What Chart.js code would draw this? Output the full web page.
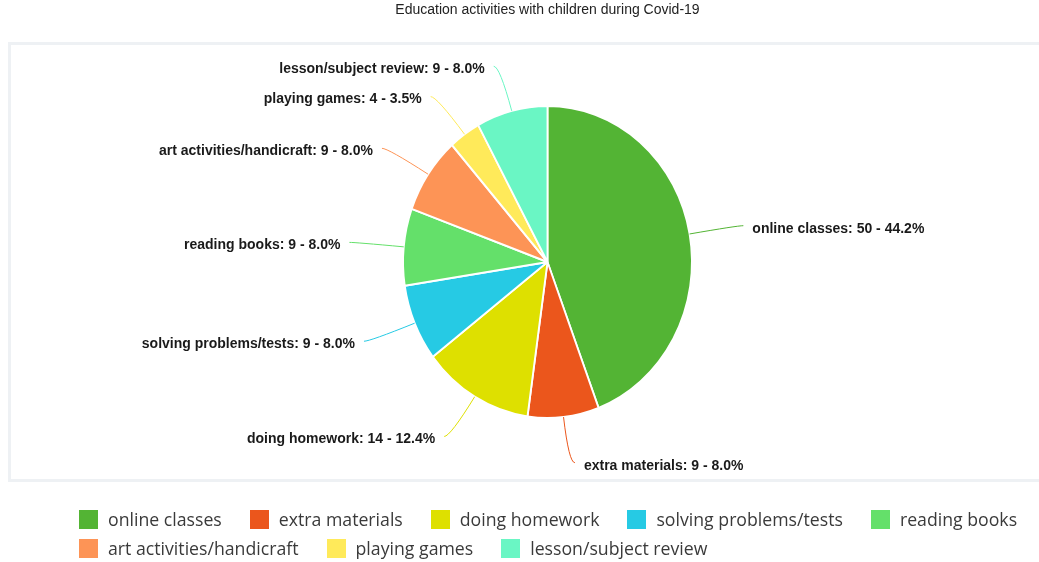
<!DOCTYPE html>
<html>
<head>
<meta charset="utf-8">
<script src="https://cdn.jsdelivr.net/npm/chart.js@4.4.1/dist/chart.umd.min.js"></script>
<style>
  body { margin: 0; background: #fff; overflow: hidden; width: 1039px; height: 562px; position: relative; }
  #frame { position: absolute; left: 8px; top: 42px; width: 1100px; height: 434px; border: 3px solid #eef1f4; }
  #pie { position: absolute; left: 0; top: 0; }
  #legend { position: absolute; left: 79px; top: 510px; width: 1040px; display: flex; flex-wrap: wrap; column-gap: 28px; row-gap: 10px; }
  .item { display: flex; align-items: center; font-family: "Open Sans", sans-serif; font-size: 17.7px; color: #3a3a3a; line-height: 19px; }
  .item span { display: inline-block; width: 19px; height: 19px; margin-right: 10px; }
</style>
</head>
<body>
<div id="frame"></div>
<canvas id="pie" width="1039" height="562"></canvas>
<div id="legend"></div>
<script>
const activities = ['online classes', 'extra materials', 'doing homework', 'solving problems/tests',
    'reading books', 'art activities/handicraft', 'playing games', 'lesson/subject review'];
const answers = [50, 9, 14, 9, 9, 9, 4, 9];
const colours = ['#53b434', '#eb561c', '#dee000', '#26cae4', '#64e06a', '#fd9456', '#ffea5a', '#6af6c4'];

const total = answers.reduce((a, b) => a + b, 0);

// the original picture is a bit narrower than high, the pie is an ellipse
const pieScaleX = 0.926;

const ellipsePie = {
    id: 'ellipsePie',
    beforeDatasetsDraw(chart) {
        const cx = chart.getDatasetMeta(0).data[0].x;
        const ctx = chart.ctx;
        ctx.save();
        ctx.translate(cx, 0);
        ctx.scale(pieScaleX, 1);
        ctx.translate(-cx, 0);
    },
    afterDatasetsDraw(chart) {
        const ctx = chart.ctx;
        ctx.restore();

        // labels with connectors, like the original
        chart.getDatasetMeta(0).data.forEach((arc, i) => {
            const mid = (arc.startAngle + arc.endAngle) / 2;
            const cos = Math.cos(mid), sin = Math.sin(mid);
            const side = cos >= 0 ? 1 : -1;
            const x0 = arc.x + cos * arc.outerRadius * pieScaleX;
            const y0 = arc.y + sin * arc.outerRadius;
            const x1 = arc.x + cos * 193;
            const y1 = arc.y + sin * 202;
            const x2 = x1 + side * 6;

            ctx.save();
            ctx.strokeStyle = colours[i];
            ctx.lineWidth = 1;
            ctx.beginPath();
            ctx.moveTo(x0, y0);
            ctx.quadraticCurveTo(x1, y1, x2, y1);
            ctx.stroke();

            const pct = (answers[i] / total * 100).toFixed(1);
            ctx.font = 'bold 14px "Liberation Sans", Arial, sans-serif';
            ctx.fillStyle = '#1a1a1a';
            ctx.textBaseline = 'middle';
            ctx.textAlign = side > 0 ? 'left' : 'right';
            ctx.fillText(activities[i] + ': ' + answers[i] + ' - ' + pct + '%', x2 + side * 9, y1 + 3);
            ctx.restore();
        });
    }
};

var ctx = document.getElementById('pie').getContext('2d');
var myPieChart = new Chart(ctx, {
    type: 'pie',
    data: {
        labels: activities,
        datasets: [{
            data: answers,
            backgroundColor: colours,
            borderColor: '#ffffff',
            borderWidth: 2
        }]
    },
    options: {
        responsive: false,
        animation: false,
        radius: 156,
        layout: { padding: { left: 56, right: 0, top: 0, bottom: 59.8 } },
        plugins: {
            legend: { display: false },
            tooltip: { enabled: false },
            title: {
                display: true,
                text: 'Education activities with children during Covid-19',
                color: '#222',
                font: { family: '"Liberation Sans", Arial, sans-serif', size: 14, weight: 'normal' },
                padding: { top: 2, bottom: 3 }
            }
        }
    },
    plugins: [ellipsePie]
});

// html legend, two rows like the original
const legend = document.getElementById('legend');
activities.forEach((name, i) => {
    var item = document.createElement('div');
    item.className = 'item';
    var box = document.createElement('span');
    box.style.background = colours[i];
    item.appendChild(box);
    item.appendChild(document.createTextNode(name));
    legend.appendChild(item);
});
</script>
</body>
</html>
